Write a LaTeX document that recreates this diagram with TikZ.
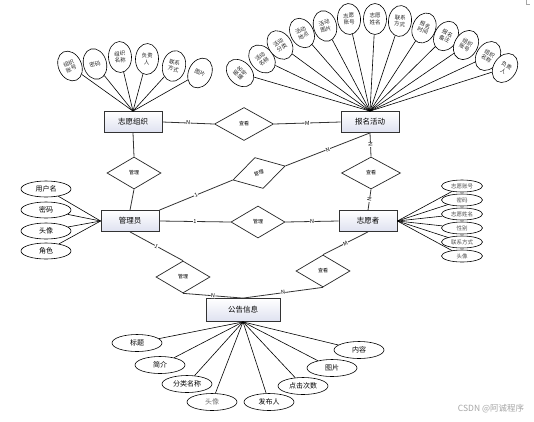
\documentclass[tikz,border=0pt]{standalone}
\usepackage{fontspec}
\setmainfont{Noto Sans CJK SC}
\usetikzlibrary{shapes.geometric,shadows}
\begin{document}
\begin{tikzpicture}[x=1pt,y=-1pt,
 ent/.style={rectangle, draw=black!80, line width=0.8pt, top color=white, bottom color={rgb,255:red,222;green,225;blue,240}, minimum width=58pt, minimum height=21pt, inner sep=0pt, font=\fontsize{7.5}{9}\selectfont, drop shadow={shadow xshift=0.8pt, shadow yshift=-0.8pt, opacity=0.4}},
 rel/.style={diamond, draw=black!85, line width=0.7pt, fill=white, minimum width=54pt, minimum height=32pt, inner sep=0pt, font=\fontsize{5}{6}\selectfont},
 fan/.style={ellipse, draw, line width=0.6pt, fill=white, minimum width=23pt, minimum height=31pt, inner sep=0pt, align=center, font=\fontsize{5.5}{6.3}\selectfont, text=black!85},
 hat/.style={ellipse, draw, line width=0.6pt, fill=white, minimum width=50pt, minimum height=16pt, inner sep=0pt, font=\fontsize{7}{8}\selectfont},
 vat/.style={ellipse, draw, line width=0.6pt, fill=white, minimum width=41pt, minimum height=12pt, inner sep=0pt, font=\fontsize{5.5}{6}\selectfont, text=black!70},
 lnk/.style={line width=0.6pt},
 con/.style={line width=0.8pt, draw=black!80},
 card/.style={fill=white, inner sep=0.4pt, font=\fontsize{5.5}{6}\selectfont, sloped}
]
\useasboundingbox (0,0) rectangle (534,421);
\fill[white] (0,0) rectangle (534,421);

% entities
\node[ent] (E1) at (133,122) {志愿组织};
\node[ent] (E2) at (370,122) {报名活动};
\node[ent] (E3) at (130,221) {管理员};
\node[ent] (E4) at (368,221) {志愿者};
\node[ent, minimum width=74pt, minimum height=23pt] (E5) at (243,310) {公告信息};

% relations
\node[rel, minimum width=59pt, minimum height=33pt] (D1) at (244,124) {查看};
\node[rel] (D2) at (134,173) {管理};
\node[rel, rotate=15] (D3) at (259,173) {管理};
\node[rel, minimum width=59pt] (D4) at (371,173) {查看};
\node[rel] (D5) at (258,222) {管理};
\node[rel] (D6) at (183,277) {管理};
\node[rel] (D7) at (323,271) {查看};

% connectors
\draw[con] (E1.east) -- node[card]{N} (D1.west);
\draw[con] (D1.east) -- node[card]{M} (E2.west);
\draw[con] (E1.south) -- (D2.north);
\draw[con] (D2.south) -- (E3.north);
\draw[con] (E3.north east) -- node[card]{1} (D3.west);
\draw[con] (D3.east) -- node[card]{N} (E2.south);
\draw[con] (E2.south) -- node[card]{N} (D4.north);
\draw[con] (D4.south) -- node[card]{N} (E4.north);
\draw[con] (E3.east) -- node[card]{1} (D5.west);
\draw[con] (D5.east) -- node[card]{N} (E4.west);
\draw[con] (E3.south) -- node[card]{1} (D6.north);
\draw[con] (D6.south) -- node[card]{N} (E5.north);
\draw[con] (E4.south) -- node[card]{M} (D7.north);
\draw[con] (D7.south) -- node[card]{N} (E5.north);

% 志愿组织 attributes
\node[fan, rotate=25] (a1) at (70,66) {组织\\账号};
\node[fan, rotate=15] (a2) at (95,64) {密码};
\node[fan, rotate=3] (a3) at (120,57) {组织\\名称};
\node[fan, rotate=-3] (a4) at (147,59) {负责\\人};
\node[fan, rotate=-12] (a5) at (174,66) {联系\\方式};
\node[fan, rotate=-25] (a6) at (200,73) {图片};
\foreach \n in {a1,a2,a3,a4,a5,a6} \draw[lnk] (\n) -- (E1.north);

% 报名活动 attributes
\node[fan, rotate=45] (b1) at (240,73) {报名\\编号};
\node[fan, rotate=40] (b2) at (262,59) {活动\\名称};
\node[fan, rotate=35] (b3) at (280,45) {活动\\分类};
\node[fan, rotate=28] (b4) at (302,33) {活动\\地点};
\node[fan, rotate=15] (b5) at (325,26) {活动\\图片};
\node[fan, rotate=4] (b6) at (349,19) {志愿\\账号};
\node[fan, rotate=0] (b7) at (375,19) {志愿\\姓名};
\node[fan, rotate=-6] (b8) at (400,21) {联系\\方式};
\node[fan, rotate=-22] (b9) at (424,28) {报名\\时间};
\node[fan, rotate=-28] (b10) at (446,36) {报名\\备注};
\node[fan, rotate=-30] (b11) at (466,45) {组织\\账号};
\node[fan, rotate=-32] (b12) at (488,56) {组织\\名称};
\node[fan, rotate=-32] (b13) at (505,68) {负责\\人};
\foreach \n in {b1,b2,b3,b4,b5,b6,b7,b8,b9,b10,b11,b12,b13} \draw[lnk] (\n) -- (E2.north);

% 管理员 attributes
\node[hat] (c1) at (46,189) {用户名};
\node[hat] (c2) at (46,210) {密码};
\node[hat] (c3) at (46,231) {头像};
\node[hat] (c4) at (46,251) {角色};
\foreach \n in {c1,c2,c3,c4} \draw[lnk] (\n) -- (E3.west);

% 志愿者 attributes
\node[vat] (d1) at (462,186) {志愿账号};
\node[vat] (d2) at (462,200) {密码};
\node[vat] (d3) at (462,214) {志愿姓名};
\node[vat] (d4) at (462,228) {性别};
\node[vat] (d5) at (462,242) {联系方式};
\node[vat] (d6) at (462,256) {头像};
\foreach \n in {d1,d2,d3,d4,d5,d6} \draw[lnk] (\n) -- (E4.east);

% 公告信息 attributes
\node[hat, minimum height=17pt] (f1) at (137,343) {标题};
\node[hat, minimum height=17pt] (f2) at (160,365) {简介};
\node[hat, minimum height=17pt] (f3) at (187,384) {分类名称};
\node[hat, minimum height=17pt, text=black!55] (f4) at (212,402) {头像};
\node[hat, minimum height=17pt] (f5) at (269,402) {发布人};
\node[hat, minimum height=17pt] (f6) at (303,386) {点击次数};
\node[hat, minimum height=17pt] (f7) at (332,368) {图片};
\node[hat, minimum height=17pt] (f8) at (359,350) {内容};
\foreach \n in {f1,f2,f3,f4,f5,f6,f7,f8} \draw[lnk] (\n) -- (E5.south);

% watermark and corner mark
\node[text=black!35, font=\fontsize{8.5}{9}\selectfont] (wm) at (491,409) {CSDN @阿诚程序};
\draw[black!35, line width=0.4pt] (526,0) -- (526,4) -- (530,4);
\end{tikzpicture}
\end{document}
